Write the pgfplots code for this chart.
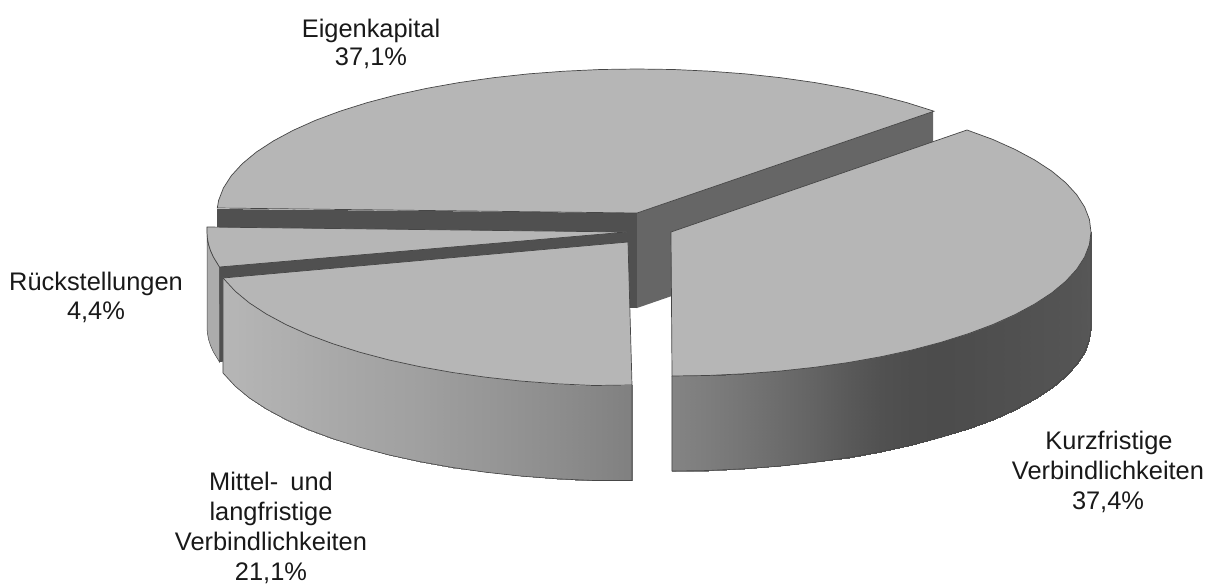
\documentclass[border=0pt]{standalone}
\usepackage{fontspec}
\setmainfont{Liberation Sans}
\usepackage{pgfplots}
\pgfplotsset{compat=1.18}
\definecolor{topc}{RGB}{182,182,182}
\definecolor{edge}{RGB}{70,70,70}
\newcommand\strip[2]{\addplot[fill={rgb,255:red,#1;green,#1;blue,#1},draw={rgb,255:red,#1;green,#1;blue,#1},line width=.4pt] coordinates {#2} --cycle;}
\newcommand\lab[3]{\node[anchor=base,inner sep=0pt,font=\fontsize{25.4}{30}\selectfont,text=black!90] at (axis cs:#1,#2) {#3};}
\begin{document}
\begin{tikzpicture}
\begin{axis}[scale only axis,width=1207pt,height=582pt,xmin=0,xmax=1207,ymin=0,ymax=582,y dir=reverse,hide axis,clip=false,no markers,
  colormap={grays}{color(0cm)=(black);color(1cm)=(white)},point meta min=0,point meta max=255]
\path (axis cs:0,0) rectangle (axis cs:1207,582);
% Eigenkapital: inner faces
\addplot[fill={rgb,255:red,80;green,80;blue,80},draw=none] coordinates {(637,213)(217,209)(217,304)(637,308)} --cycle;
\addplot[fill={rgb,255:red,102;green,102;blue,102},draw=none] coordinates {(637,213)(933,111)(933,206)(637,308)} --cycle;
% Eigenkapital: top
\addplot[fill=topc,draw=edge,line width=.7pt] coordinates {(637,213)(934,111.2)(907,102.7)(877.9,95)(847,88.3)(814.5,82.5)(780.6,77.7)(745.7,73.9)(709.9,71.2)(673.6,69.5)(637,69)(600.4,69.5)(564.1,71.2)(528.3,73.9)(493.4,77.7)(459.5,82.5)(427,88.3)(396.1,95)(367,102.7)(340,111.2)(315.3,120.4)(293,130.4)(273.3,141)(256.3,152.1)(242.3,163.7)(231.3,175.7)(223.4,188)(218.6,200.4)(217.3,208)} --cycle;
% Rueckstellungen: side, inner face, top
\addplot[fill={rgb,255:red,172;green,172;blue,172},draw=edge,line width=.5pt] coordinates {(207,227)(207,232)(207.4,238.3)(208.6,244.6)(210.6,250.8)(213.4,257)(219.5,267)(219.5,362)(213.4,352)(210.6,345.8)(208.6,339.6)(207.4,333.3)(207,327)} --cycle;
\addplot[fill={rgb,255:red,80;green,80;blue,80},draw=none] coordinates {(627,232)(219.5,267)(219.5,362)(627,327)} --cycle;
\addplot[fill=topc,draw=edge,line width=.7pt] coordinates {(627,232)(207,227)(207,232)(207.4,238.3)(208.6,244.6)(210.6,250.8)(213.4,257)(219.5,267)} --cycle;
% Mittel- und langfristige: side underlay
\strip{160}{(223,278)(235.3,291.3)(249.3,302.9)(266.3,314)(286,324.6)(308.3,334.6)(333,343.8)(360,352.3)(389.1,360)(420,366.7)(452.5,372.5)(486.4,377.3)(521.3,381.1)(557.1,383.8)(593.4,385.5)(632,385)(632,480.5)(593.4,480.5)(557.1,478.8)(521.3,476.1)(486.4,472.3)(452.5,467.5)(420,461.7)(389.1,455)(360,447.3)(333,438.8)(308.3,429.6)(286,419.6)(266.3,409)(249.3,397.9)(235.3,386.3)(223,373)}
% Mittel- und langfristige: side gradient
\addplot[patch,patch type=rectangle,shader=interp,point meta=explicit] coordinates {
(223,278)[182](235.3,291.3)[181](235.3,386.3)[181](223,373)[182]
(235.3,291.3)[181](249.3,302.9)[179](249.3,397.9)[179](235.3,386.3)[181]
(249.3,302.9)[179](266.3,314)[177](266.3,409)[177](249.3,397.9)[179]
(266.3,314)[177](286,324.6)[175](286,419.6)[175](266.3,409)[177]
(286,324.6)[175](308.3,334.6)[172](308.3,429.6)[172](286,419.6)[175]
(308.3,334.6)[172](333,343.8)[169](333,438.8)[169](308.3,429.6)[172]
(333,343.8)[169](360,352.3)[166](360,447.3)[166](333,438.8)[169]
(360,352.3)[166](389.1,360)[163](389.1,455)[163](360,447.3)[166]
(389.1,360)[163](420,366.7)[160](420,461.7)[160](389.1,455)[163]
(420,366.7)[160](452.5,372.5)[155](452.5,467.5)[155](420,461.7)[160]
(452.5,372.5)[155](486.4,377.3)[151](486.4,472.3)[151](452.5,467.5)[155]
(486.4,377.3)[151](521.3,381.1)[146](521.3,476.1)[146](486.4,472.3)[151]
(521.3,381.1)[146](557.1,383.8)[141](557.1,478.8)[141](521.3,476.1)[146]
(557.1,383.8)[141](593.4,385.5)[135](593.4,480.5)[135](557.1,478.8)[141]
(593.4,385.5)[135](632,385)[128](632,480.5)[128](593.4,480.5)[135]
};
\addplot[draw=edge,line width=.6pt] coordinates {(223,278)(223,373)(235.3,386.3)(249.3,397.9)(266.3,409)(286,419.6)(308.3,429.6)(333,438.8)(360,447.3)(389.1,455)(420,461.7)(452.5,467.5)(486.4,472.3)(521.3,476.1)(557.1,478.8)(593.4,480.5)(632,480.5)(632,385)};
% Mittel- und langfristige: top
\addplot[fill=topc,draw=edge,line width=.7pt] coordinates {(628,242)(223,278)(235.3,291.3)(249.3,302.9)(266.3,314)(286,324.6)(308.3,334.6)(333,343.8)(360,352.3)(389.1,360)(420,366.7)(452.5,372.5)(486.4,377.3)(521.3,381.1)(557.1,383.8)(593.4,385.5)(632,385)} --cycle;
% Kurzfristige: side underlay
\strip{90}{(672,376)(707.6,375.5)(743.9,373.8)(779.7,371.1)(814.6,367.3)(848.5,362.5)(881,356.7)(911.9,350)(941,342.3)(968,333.8)(992.7,324.6)(1015,314.6)(1034.7,304)(1051.7,292.9)(1065.7,281.3)(1076.7,269.3)(1084.6,257)(1089.4,244.6)(1091,232)(1091,327)(1089.4,339.6)(1084.6,352)(1076.7,364.3)(1065.7,376.3)(1051.7,387.9)(1034.7,399)(1015,409.6)(992.7,419.6)(968,428.8)(941,437.3)(911.9,445)(881,451.7)(848.5,457.5)(814.6,462.3)(779.7,466.1)(743.9,468.8)(707.6,470.5)(672,471)}
% Kurzfristige: side gradient
\addplot[patch,patch type=rectangle,shader=interp,point meta=explicit] coordinates {
(672,376)[132](707.6,375.5)[125](707.6,470.5)[125](672,471)[132]
(707.6,375.5)[125](743.9,373.8)[117](743.9,468.8)[117](707.6,470.5)[125]
(743.9,373.8)[117](779.7,371.1)[108](779.7,466.1)[108](743.9,468.8)[117]
(779.7,371.1)[108](814.6,367.3)[99](814.6,462.3)[99](779.7,466.1)[108]
(814.6,367.3)[99](848.5,362.5)[89](848.5,457.5)[89](814.6,462.3)[99]
(848.5,362.5)[89](881,356.7)[81](881,451.7)[81](848.5,457.5)[89]
(881,356.7)[81](911.9,350)[77](911.9,445)[77](881,451.7)[81]
(911.9,350)[77](941,342.3)[76](941,437.3)[76](911.9,445)[77]
(941,342.3)[76](968,333.8)[77](968,428.8)[77](941,437.3)[76]
(968,333.8)[77](992.7,324.6)[79](992.7,419.6)[79](968,428.8)[77]
(992.7,324.6)[79](1015,314.6)[80](1015,409.6)[80](992.7,419.6)[79]
(1015,314.6)[80](1034.7,304)[82](1034.7,399)[82](1015,409.6)[80]
(1034.7,304)[82](1051.7,292.9)[83](1051.7,387.9)[83](1034.7,399)[82]
(1051.7,292.9)[83](1065.7,281.3)[84](1065.7,376.3)[84](1051.7,387.9)[83]
(1065.7,281.3)[84](1076.7,269.3)[85](1076.7,364.3)[85](1065.7,376.3)[84]
(1076.7,269.3)[85](1084.6,257)[86](1084.6,352)[86](1076.7,364.3)[85]
(1084.6,257)[86](1089.4,244.6)[87](1089.4,339.6)[87](1084.6,352)[86]
(1089.4,244.6)[87](1091,232)[88](1091,327)[88](1089.4,339.6)[87]
};
\addplot[draw=edge,line width=.6pt] coordinates {(672,376)(672,471)(707.6,470.5)(743.9,468.8)(779.7,466.1)(814.6,462.3)(848.5,457.5)(881,451.7)(911.9,445)(941,437.3)(968,428.8)(992.7,419.6)(1015,409.6)(1034.7,399)(1051.7,387.9)(1065.7,376.3)(1076.7,364.3)(1084.6,352)(1089.4,339.6)(1091,327)(1091,232)};
% Kurzfristige: top
\addplot[fill=topc,draw=edge,line width=.7pt] coordinates {(671,232)(967,130)(992.7,139.4)(1015,149.4)(1034.7,160)(1051.7,171.1)(1065.7,182.7)(1076.7,194.7)(1084.6,207)(1089.4,219.4)(1091,232)(1089.4,244.6)(1084.6,257)(1076.7,269.3)(1065.7,281.3)(1051.7,292.9)(1034.7,304)(1015,314.6)(992.7,324.6)(968,333.8)(941,342.3)(911.9,350)(881,356.7)(848.5,362.5)(814.6,367.3)(779.7,371.1)(743.9,373.8)(707.6,375.5)(672,376)} --cycle;
% Labels
\lab{371}{37}{Eigenkapital}
\lab{371}{65}{37,1\%}
\lab{96}{290}{Rückstellungen}
\lab{96}{319}{4,4\%}
\lab{1109}{449}{Kurzfristige}
\lab{1108}{479}{Verbindlichkeiten}
\lab{1108}{509}{37,4\%}
\lab{271}{490}{Mittel-\hspace{.2em} und}
\lab{271}{520}{langfristige}
\lab{271}{550}{Verbindlichkeiten}
\lab{271}{580}{21,1\%}
\end{axis}
\end{tikzpicture}
\end{document}
